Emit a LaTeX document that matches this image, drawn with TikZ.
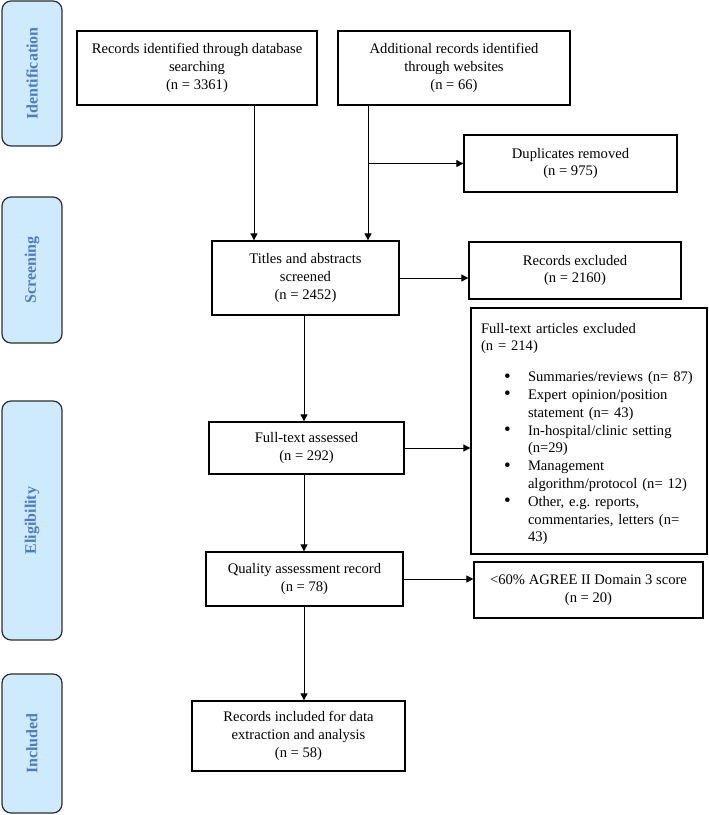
\documentclass[tikz,border=0pt]{standalone}
\usepackage{fontspec}
\setmainfont{Liberation Serif}
\usetikzlibrary{arrows.meta}
\definecolor{labfill}{RGB}{206,235,253}
\definecolor{labtext}{RGB}{74,124,201}
\definecolor{labedge}{RGB}{45,45,45}
\newcommand{\bulletitem}{\hspace*{23pt}\makebox[24pt][l]{\raisebox{-0.5pt}{\fontsize{19}{19}\selectfont\textbullet}}}
\newcommand{\contline}{\hspace*{47pt}}
\frenchspacing
\begin{document}
\frenchspacing
\begin{tikzpicture}[x=1pt,y=-1pt,
  box/.style={draw=black, line width=1.3pt, fill=white, align=center, inner sep=2pt,
    font=\fontsize{14.6}{17.8}\selectfont},
  lab/.style={draw=labedge, line width=1.2pt, fill=labfill, rounded corners=9pt,
    text=labtext, inner sep=0pt, font=\fontsize{16}{18}\selectfont\bfseries},
  arr/.style={line width=0.9pt, -{Triangle[length=7pt,width=7pt]}}]
\useasboundingbox (0,0) rectangle (709,815);

% phase labels
\node[lab, rotate=90, minimum width=145pt, minimum height=60pt] (idl) at (32,73.5) {Identification};
\node[lab, rotate=90, minimum width=146pt, minimum height=60pt] (scl) at (32,270) {Screening};
\node[lab, rotate=90, minimum width=239pt, minimum height=60pt] (ell) at (32,520.5) {Eligibility};
\node[lab, rotate=90, minimum width=139pt, minimum height=60pt] (inl) at (32,743.5) {Included};

% boxes
\node[box, minimum width=240pt, minimum height=74pt] (db) at (197,68)
  {Records identified through database\\searching\\(n = 3361)};
\node[box, minimum width=232pt, minimum height=74pt] (web) at (454,68)
  {Additional records identified\\through websites\\(n = 66)};
\node[box, minimum width=213pt, minimum height=57pt] (dup) at (570.5,163.5)
  {Duplicates removed\\(n = 975)};
\node[box, minimum width=187pt, minimum height=74pt] (titles) at (305.5,278)
  {Titles and abstracts\\screened\\(n = 2452)};
\node[box, minimum width=212pt, minimum height=57pt] (recexcl) at (575,270.5)
  {Records excluded\\(n = 2160)};
\node[box, minimum width=236pt, minimum height=246pt, text width=216pt, align=left,
  inner xsep=10pt] (ftexcl) at (589,431)
  {\rule{0pt}{16pt}Full-text articles excluded\\
   (n = 214)\\[13pt]
   \bulletitem Summaries/reviews (n= 87)\\
   \bulletitem Expert opinion/position\\
   \contline statement (n= 43)\\
   \bulletitem In-hospital/clinic setting\\
   \contline (n=29)\\
   \bulletitem Management\\
   \contline algorithm/protocol (n= 12)\\
   \bulletitem Other, e.g. reports,\\
   \contline commentaries, letters (n=\\
   \contline 43)};
\node[box, minimum width=195pt, minimum height=52pt] (ftass) at (306.5,448)
  {Full-text assessed\\(n = 292)};
\node[box, minimum width=197pt, minimum height=54pt] (quality) at (304.5,579)
  {Quality assessment record\\(n = 78)};
\node[box, minimum width=229pt, minimum height=56pt] (agree) at (588.5,590)
  {<60\% AGREE II Domain 3 score\\(n = 20)};
\node[box, minimum width=213pt, minimum height=70pt] (incl) at (298.5,736)
  {Records included for data\\extraction and analysis\\(n = 58)};

% connectors
\coordinate (dbx) at (254,0);
\coordinate (webx) at (368,0);
\coordinate (mainx) at (304,0);
\draw[arr] (db.south -| dbx) -- (titles.north -| dbx);
\draw[arr] (web.south -| webx) -- (titles.north -| webx);
\draw[arr] (dup.west -| webx) -- (dup.west);
\draw[arr] (titles.east) -- (recexcl.west |- titles.east);
\draw[arr] (titles.south -| mainx) -- (ftass.north -| mainx);
\draw[arr] (ftass.east) -- (ftexcl.west |- ftass.east);
\draw[arr] (ftass.south -| mainx) -- (quality.north -| mainx);
\draw[arr] (quality.east) -- (agree.west |- quality.east);
\draw[arr] (quality.south -| mainx) -- (incl.north -| mainx);
\end{tikzpicture}
\end{document}
